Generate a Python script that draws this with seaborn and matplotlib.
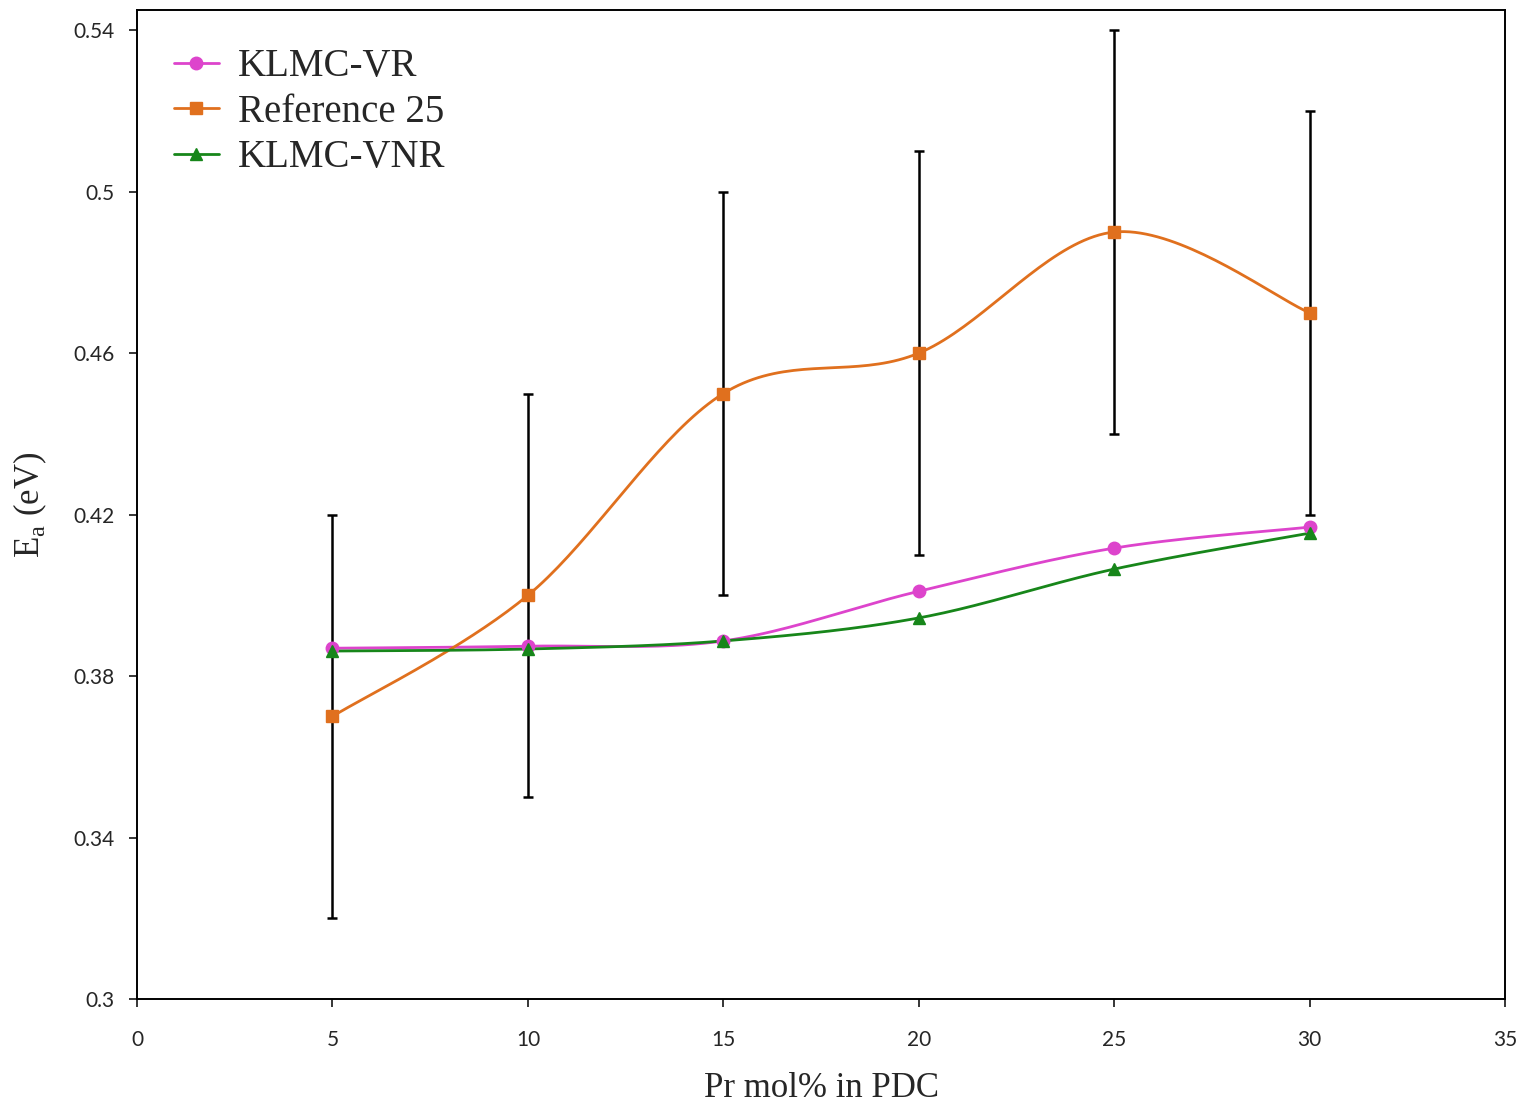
import numpy as np
import pandas as pd
import seaborn as sns
import matplotlib.pyplot as plt
from matplotlib.lines import Line2D

# data
pr_mol = [5, 10, 15, 20, 25, 30]
klmc_vr = [0.3869, 0.3874, 0.3887, 0.4010, 0.4117, 0.4169]
ref_25 = [0.37, 0.40, 0.45, 0.46, 0.49, 0.47]
ref_25_err = [0.05, 0.05, 0.05, 0.05, 0.05, 0.05]
klmc_vnr = [0.3862, 0.3867, 0.3887, 0.3944, 0.4065, 0.4154]

series_names = ["KLMC-VR", "Reference 25", "KLMC-VNR"]
series_values = [klmc_vr, ref_25, klmc_vnr]
colors = ["#DD44CC", "#E0701E", "#17861A"]
markers = ["o", "s", "^"]

y_ticks = [0.30, 0.34, 0.38, 0.42, 0.46, 0.50, 0.54]
y_tick_labels = ["0.3", "0.34", "0.38", "0.42", "0.46", "0.5", "0.54"]
x_ticks = [0, 5, 10, 15, 20, 25, 30, 35]


def smooth_curve(x, y, n=40):
    """Excel-style smoothed line: bezier segments with catmull-rom control points."""
    p = np.column_stack([x, y]).astype(float)
    pts = []
    for i in range(len(p) - 1):
        p0 = p[i - 1] if i > 0 else p[i]
        p3 = p[i + 2] if i + 2 < len(p) else p[i + 1]
        c1 = p[i] + (p[i + 1] - p0) / 6
        c2 = p[i + 1] - (p3 - p[i]) / 6
        t = np.linspace(0, 1, n)[:, None]
        seg = ((1 - t) ** 3 * p[i] + 3 * (1 - t) ** 2 * t * c1
               + 3 * (1 - t) * t ** 2 * c2 + t ** 3 * p[i + 1])
        pts.append(seg if i == 0 else seg[1:])
    pts = np.vstack(pts)
    return pts[:, 0], pts[:, 1]


sns.set_style("ticks")
plt.rcParams['font.family'] = ['Lato', 'DejaVu Sans']

fig = plt.figure(figsize=(15.21, 11.03), dpi=100)
ax = fig.add_axes([0.0901, 0.0943, 0.8994, 0.8966])

# error bars for reference 25 (behind the markers)
ax.errorbar(pr_mol, ref_25, yerr=ref_25_err, fmt='none', ecolor='black',
            elinewidth=1.8, capsize=3.5, capthick=1.8, zorder=2)

handles = []
for name, vals, col, mk in zip(series_names, series_values, colors, markers):
    sx, sy = smooth_curve(pr_mol, vals)
    curve = pd.DataFrame({"x": sx, "y": sy})
    sns.lineplot(data=curve, x="x", y="y", sort=False, estimator=None,
                 color=col, linewidth=2.0, ax=ax, zorder=3)
    ax.plot(pr_mol, vals, linestyle='none', marker=mk, markersize=9,
            color=col, zorder=4)
    handles.append(Line2D([], [], color=col, linewidth=2.0, marker=mk,
                          markersize=9, label=name))

ax.set_xlim(0, 35)
ax.set_ylim(0.3, 0.545)
ax.set_xticks(x_ticks)
ax.set_yticks(y_ticks)
ax.set_yticklabels(y_tick_labels)
ax.tick_params(axis='x', labelsize=15, direction='out', length=6, width=1.3, pad=16)
ax.tick_params(axis='y', labelsize=15, direction='out', length=6, width=1.3, pad=10)
for side in ax.spines.values():
    side.set_visible(True)
    side.set_linewidth(1.4)
    side.set_color('black')

ax.set_xlabel("Pr mol% in PDC", family=['Liberation Serif'], fontsize=25, labelpad=16)
ax.set_ylabel("E$_\\mathregular{a}$ (eV)", family=['Liberation Serif'], fontsize=25, labelpad=18)

ax.legend(handles=handles, loc='upper left', frameon=False,
          prop={'family': 'Liberation Serif', 'size': 28},
          handlelength=1.15, handletextpad=0.5, labelspacing=0.22,
          borderaxespad=0.0, bbox_to_anchor=(0.0155, 0.977))

fig.savefig("out.png", dpi=100)
